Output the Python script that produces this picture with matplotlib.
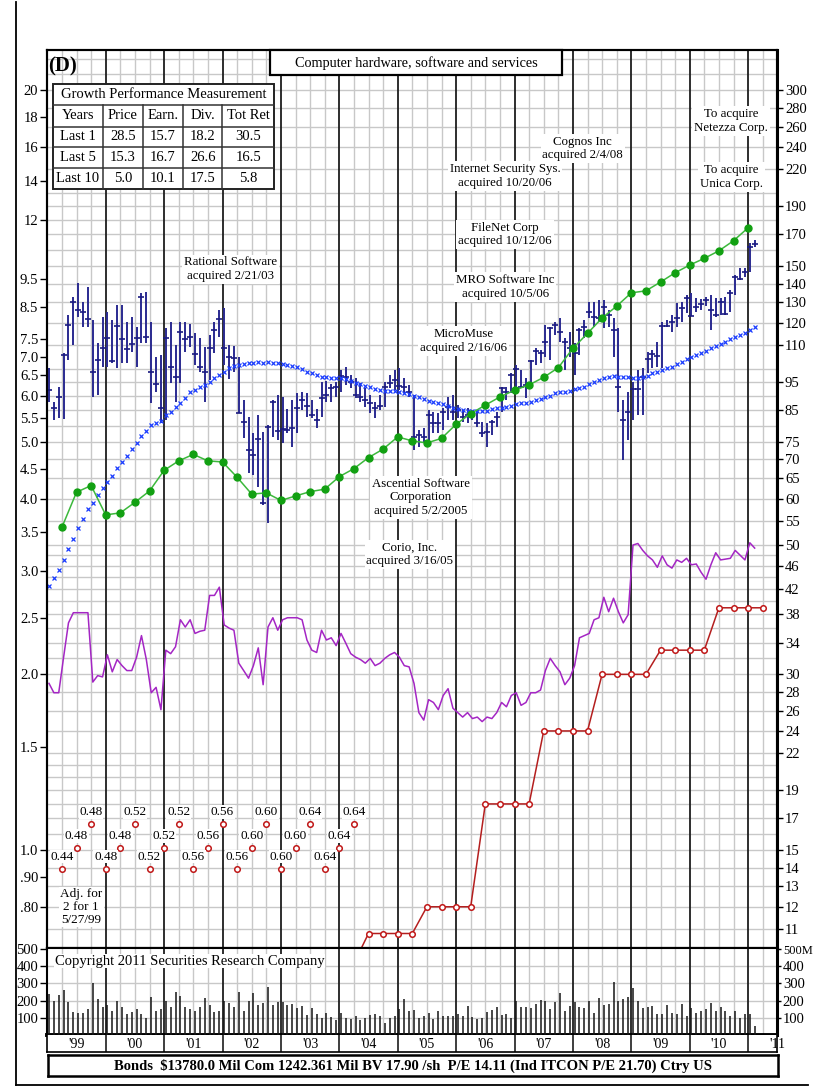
import numpy as np
import matplotlib.pyplot as plt
from matplotlib.patches import Rectangle
from matplotlib.lines import Line2D
from matplotlib.ticker import NullLocator

plt.rcParams['font.family'] = ['Liberation Serif', 'DejaVu Serif']

# ---------------- data (monthly from Jan 1999, price in $) ----------------
start_year = 1999

price_hi = [100.3, 87.7, 93.1, 106.4, 123.6, 132.7, 140.2, 130.1, 138.0, 121.2,
            110.7, 122.6, 125.1, 121.2, 128.6, 128.6, 120.3, 122.6, 117.9, 134.7,
            135.2, 120.3, 104.7, 105.6, 117.4, 120.3, 109.8, 120.3, 120.3, 119.3,
            115.2, 112.9, 109.0, 114.3, 120.3, 126.1, 127.1, 109.8, 109.4, 104.7,
            88.4, 82.6, 77.6, 83.3, 77.9, 80.1, 88.4, 90.2, 89.4, 85.4,
            88.4, 91.0, 91.3, 91.0, 88.4, 85.4, 94.9, 95.3, 94.2, 94.9,
            99.6, 100.7, 97.6, 96.4, 94.5, 92.7, 90.2, 87.8, 90.2, 94.9,
            97.6, 99.6, 100.4, 96.4, 93.8, 90.2, 78.6, 79.2, 85.0, 84.3,
            84.0, 85.7, 89.5, 90.2, 86.7, 85.0, 85.7, 84.3, 85.0, 81.2,
            80.8, 81.8, 84.3, 93.1, 93.1, 98.4, 101.5, 99.6, 96.4, 103.6,
            108.6, 107.7, 118.9, 117.9, 120.3, 122.2, 113.0, 115.7, 110.8, 117.5,
            121.2, 130.2, 130.2, 131.2, 131.2, 126.1, 122.2, 117.5, 88.5, 91.3,
            94.9, 99.6, 100.4, 106.8, 107.7, 111.2, 120.3, 121.2, 123.7, 129.6,
            130.2, 133.8, 134.8, 132.1, 131.6, 132.7, 133.8, 132.1, 132.1, 132.7,
            136.5, 144.8, 148.9, 148.9, 164.2, 166.2]

price_lo = [87.7, 81.7, 82.3, 82.0, 103.5, 109.8, 122.6, 117.9, 117.9, 89.4,
            90.2, 100.7, 100.7, 102.3, 100.3, 102.3, 102.3, 106.8, 100.7, 110.7,
            110.7, 87.4, 91.3, 80.7, 81.7, 94.5, 87.7, 94.5, 106.8, 108.9,
            101.5, 98.7, 87.7, 95.7, 106.4, 113.4, 101.5, 96.1, 98.7, 84.0,
            76.1, 66.3, 65.8, 62.8, 58.5, 54.4, 76.4, 75.5, 74.6, 77.6,
            73.5, 77.6, 85.0, 82.6, 82.3, 79.2, 82.6, 87.7, 87.7, 89.4,
            91.3, 93.8, 92.7, 89.2, 87.8, 86.0, 84.0, 82.4, 85.0, 86.0,
            92.7, 92.0, 92.0, 90.9, 89.5, 72.6, 73.5, 74.7, 75.6, 77.7,
            77.7, 78.6, 81.8, 81.8, 82.4, 81.2, 80.8, 81.8, 79.6, 76.5,
            73.5, 77.1, 79.6, 84.3, 88.5, 90.9, 93.1, 92.7, 89.2, 93.1,
            101.5, 102.3, 104.7, 103.6, 114.3, 111.2, 99.6, 104.7, 97.6, 105.6,
            113.0, 122.2, 118.0, 120.3, 117.5, 118.0, 104.7, 84.3, 69.8, 75.6,
            81.8, 83.4, 83.4, 98.4, 100.4, 100.7, 100.4, 118.0, 115.7, 118.0,
            120.3, 124.6, 123.2, 125.1, 126.1, 128.1, 116.6, 122.7, 123.7, 123.7,
            125.1, 133.8, 142.0, 143.7, 146.5, 161.7]

price_close = [92.0, 85.7, 89.4, 105.6, 118.8, 130.1, 126.1, 125.1, 121.7, 98.7,
               103.5, 108.6, 112.9, 103.1, 118.3, 112.5, 108.1, 110.3, 112.9, 132.7,
               113.4, 98.7, 94.2, 85.7, 112.9, 100.7, 96.8, 115.6, 112.5, 113.4,
               106.0, 100.7, 98.7, 108.6, 116.5, 121.7, 108.6, 104.7, 104.3, 84.0,
               81.0, 72.6, 71.2, 75.8, 58.9, 79.5, 87.7, 78.3, 78.9, 78.6,
               79.2, 85.7, 88.4, 86.3, 83.3, 81.7, 89.1, 90.2, 92.7, 93.1,
               97.2, 96.8, 94.9, 90.2, 89.5, 88.5, 87.4, 85.7, 86.3, 93.1,
               94.5, 95.7, 93.5, 93.1, 91.3, 76.5, 77.1, 76.5, 83.4, 80.8,
               80.8, 84.3, 85.9, 84.3, 85.0, 82.7, 83.4, 83.0, 80.8, 77.7,
               78.0, 81.2, 82.7, 92.7, 91.3, 97.6, 100.0, 93.1, 93.8, 103.2,
               107.3, 106.4, 111.2, 117.5, 118.9, 115.7, 111.2, 108.6, 106.4, 116.6,
               118.0, 125.1, 122.7, 122.2, 127.6, 123.7, 116.6, 93.1, 81.8, 84.3,
               92.4, 92.4, 96.8, 104.0, 106.0, 105.2, 118.5, 118.5, 120.3, 122.2,
               127.1, 132.1, 123.2, 127.6, 129.1, 131.2, 126.1, 123.7, 130.2, 124.1,
               134.8, 143.7, 142.6, 146.5, 161.7, 163.6]

moving_avg = [42.5, 43.8, 45.2, 47.1, 49.2, 51.1, 53.4, 55.3, 57.6, 58.9,
              60.8, 62.5, 64.0, 65.6, 67.7, 69.3, 70.9, 72.9, 74.7, 76.8,
              78.3, 80.2, 80.8, 81.5, 83.4, 84.3, 86.0, 87.4, 89.1, 91.3,
              92.0, 93.1, 93.8, 94.9, 96.4, 97.6, 98.7, 100.4, 101.1, 101.5,
              101.9, 102.3, 102.3, 102.7, 102.3, 102.7, 102.3, 102.3, 101.9, 101.5,
              101.1, 100.7, 99.9, 98.7, 98.4, 97.6, 96.8, 96.8, 96.4, 96.4,
              96.4, 96.0, 95.3, 94.5, 94.2, 93.5, 93.1, 92.3, 92.0, 91.6,
              91.6, 91.6, 91.3, 90.9, 90.5, 89.8, 89.5, 88.8, 88.1, 87.8,
              87.4, 87.1, 86.3, 85.7, 85.4, 85.0, 84.7, 84.7, 84.7, 84.7,
              84.7, 85.4, 85.7, 85.7, 86.0, 86.3, 87.1, 87.4, 87.4, 87.8,
              88.5, 88.8, 89.5, 89.8, 90.9, 91.3, 91.3, 91.6, 92.3, 92.7,
              93.1, 94.2, 94.9, 95.7, 96.4, 96.8, 97.2, 96.8, 96.8, 96.8,
              96.4, 96.4, 96.8, 97.2, 98.4, 98.7, 99.6, 100.4, 100.7, 101.9,
              102.7, 104.0, 104.8, 105.6, 106.4, 107.3, 108.6, 109.4, 110.3, 111.2,
              112.5, 113.4, 114.3, 115.2, 116.6, 118.0]

rel_strength = [1.93, 1.86, 1.86, 2.14, 2.45, 2.55, 2.55, 2.55, 2.55, 1.94,
                1.99, 1.98, 2.16, 2.02, 2.12, 2.07, 2.03, 2.03, 2.14, 2.33,
                2.12, 1.86, 1.90, 1.74, 2.20, 2.17, 2.23, 2.48, 2.41, 2.48,
                2.35, 2.37, 2.38, 2.73, 2.73, 2.82, 2.43, 2.40, 2.38, 2.09,
                2.03, 1.97, 2.07, 2.22, 1.92, 2.41, 2.50, 2.38, 2.48, 2.50,
                2.50, 2.50, 2.48, 2.29, 2.20, 2.18, 2.38, 2.29, 2.31, 2.24,
                2.35, 2.26, 2.17, 2.14, 2.12, 2.09, 2.13, 2.07, 2.09, 2.13,
                2.16, 2.18, 2.14, 2.07, 2.06, 1.93, 1.72, 1.67, 1.81, 1.79,
                1.74, 1.84, 1.89, 1.75, 1.72, 1.69, 1.72, 1.68, 1.69, 1.66,
                1.69, 1.68, 1.72, 1.79, 1.76, 1.84, 1.86, 1.77, 1.79, 1.86,
                1.86, 1.88, 2.03, 2.13, 2.07, 2.02, 1.92, 1.97, 2.07, 2.31,
                2.33, 2.35, 2.48, 2.50, 2.71, 2.56, 2.70, 2.56, 2.45, 2.53,
                3.33, 3.35, 3.26, 3.19, 3.14, 3.05, 3.19, 3.08, 3.04, 3.14,
                3.11, 3.16, 3.08, 3.09, 2.99, 2.91, 3.08, 3.23, 3.14, 3.15,
                3.16, 3.26, 3.20, 3.14, 3.36, 3.29]

volume = [240, 200, 230, 260, 190, 135, 130, 130, 150, 305, 210, 160,
          175, 140, 195, 165, 120, 135, 150, 125, 100, 220, 140, 150,
          195, 160, 250, 225, 160, 150, 140, 160, 215, 175, 135, 140,
          195, 185, 160, 250, 140, 195, 245, 175, 185, 280, 175, 190,
          190, 175, 180, 155, 170, 115, 155, 120, 100, 130, 105, 90,
          130, 100, 95, 110, 90, 100, 115, 120, 110, 70, 100, 110,
          150, 210, 140, 145, 100, 110, 130, 95, 140, 110, 110, 110,
          120, 110, 170, 105, 95, 100, 135, 145, 160, 115, 120, 100,
          200, 160, 165, 155, 180, 205, 200, 150, 190, 245, 140, 170,
          190, 160, 155, 195, 130, 215, 175, 180, 310, 200, 210, 220,
          275, 195, 155, 160, 170, 120, 125, 175, 130, 120, 180, 110,
          155, 130, 140, 150, 185, 140, 165, 140, 110, 140, 100, 120,
          125, 55]

# quarterly, from 1999 Q1 end
earnings = [3.57, 4.10, 4.21, 3.75, 3.78, 3.94, 4.12, 4.47, 4.64, 4.76,
            4.64, 4.62, 4.35, 4.07, 4.09, 3.97, 4.04, 4.11, 4.15, 4.36,
            4.50, 4.70, 4.86, 5.10, 5.02, 4.98, 5.07, 5.36, 5.59, 5.78,
            5.97, 6.13, 6.26, 6.45, 6.70, 7.23, 7.67, 8.15, 8.54, 9.00,
            9.07, 9.39, 9.74, 10.04, 10.31, 10.62, 11.05, 11.63]
earnings_start = 1999.25

# annual dividend rate, quarterly from 2004 Q1 end
dividends = [0.64, 0.72, 0.72, 0.72, 0.72, 0.80, 0.80, 0.80, 0.80,
             1.20, 1.20, 1.20, 1.20, 1.60, 1.60, 1.60, 1.60,
             2.00, 2.00, 2.00, 2.00, 2.20, 2.20, 2.20, 2.20,
             2.60, 2.60, 2.60, 2.60]
dividends_start = 2004.25

# off-scale dividends shown as labelled circles
old_dividends = [0.44, 0.48, 0.48, 0.48, 0.48, 0.52, 0.52, 0.52, 0.52, 0.56, 0.56,
                 0.56, 0.56, 0.60, 0.60, 0.60, 0.60, 0.64, 0.64, 0.64, 0.64]
old_div_start = 1999.25
old_div_levels = [0.93, 1.01, 1.11]

pe_ratio = 15

left_ticks = [20, 18, 16, 14, 12, 9.5, 8.5, 7.5, 7.0, 6.5, 6.0, 5.5, 5.0, 4.5,
              4.0, 3.5, 3.0, 2.5, 2.0, 1.5, 1.0, 0.9, 0.8]
left_labels = ['20', '18', '16', '14', '12', '9.5', '8.5', '7.5', '7.0', '6.5',
               '6.0', '5.5', '5.0', '4.5', '4.0', '3.5', '3.0', '2.5', '2.0',
               '1.5', '1.0', '.90', '.80']
right_ticks = [300, 280, 260, 240, 220, 190, 170, 150, 140, 130, 120, 110, 95,
               85, 75, 70, 65, 60, 55, 50, 46, 42, 38, 34, 30, 28, 26, 24, 22,
               19, 17, 15, 14, 13, 12, 11]
vol_ticks = [100, 200, 300, 400, 500]
year_labels = ["'99", "'00", "'01", "'02", "'03", "'04", "'05", "'06", "'07",
               "'08", "'09", "'10", "'11"]

growth_title = 'Growth Performance Measurement'
growth_header = ['Years', 'Price', 'Earn.', 'Div.', 'Tot Ret']
growth_rows = [['Last 1', '28.5', '15.7', '18.2', '30.5'],
               ['Last 5', '15.3', '16.7', '26.6', '16.5'],
               ['Last 10', '5.0', '10.1', '17.5', '5.8']]

notes = [("Rational Software\nacquired 2/21/03", 2002.13, 9.88),
         ("Cognos Inc\nacquired 2/4/08", 2008.17, 15.9),
         ("Internet Security Sys.\nacquired 10/20/06", 2006.84, 14.26),
         ("FileNet Corp\nacquired 10/12/06", 2006.84, 11.34),
         ("MRO Software Inc\nacquired 10/5/06", 2006.84, 9.21),
         ("MicroMuse\nacquired 2/16/06", 2006.13, 7.44),
         ("Ascential Software\nCorporation\nacquired 5/2/2005", 2005.40, 4.02),
         ("Corio, Inc.\nacquired 3/16/05", 2005.21, 3.21),
         ("To acquire\nNetezza Corp.", 2010.71, 17.72),
         ("To acquire\nUnica Corp.", 2010.71, 14.21)]

title = 'Computer hardware, software and services'
bottom_line = ('Bonds  $13780.0 Mil Com 1242.361 Mil BV 17.90 /sh  P/E 14.11 '
               '(Ind ITCON P/E 21.70) Ctry US')
copyright_txt = 'Copyright 2011 Securities Research Company'

# ---------------- layout ----------------
W, H = 815, 1091
fig = plt.figure(figsize=(W / 100, H / 100), dpi=100)


def fx(x):
    return x / W


def fy(y):
    return 1 - y / H


GRID = '#c8c8c8'
YEARC = '#1e1e1e'
X0, X1 = 47.3, 777.3
XMIN, XMAX = 1999.0, 2011.5
YMIN, YMAX = 0.68, 23.44

t = start_year + (np.arange(len(price_hi)) + 0.35) / 12
tq = earnings_start + 0.25 * np.arange(len(earnings))
td = dividends_start + 0.25 * np.arange(len(dividends))
to = old_div_start + 0.25 * np.arange(len(old_dividends))

ax = fig.add_axes([fx(X0), fy(948), (X1 - X0) / W, (948 - 50) / H])
ax.set_yscale('log')
ax.set_xlim(XMIN, XMAX)
ax.set_ylim(YMIN, YMAX)

quarters = np.arange(1999, 2011.51, 0.25)
for q in quarters:
    if q % 1 == 0:
        ax.axvline(q, color=YEARC, lw=1.3, zorder=1)
    else:
        ax.axvline(q, color=GRID, lw=1.0, zorder=0.5)

grid_right = (list(range(11, 23)) + list(range(24, 51, 2)) + list(range(55, 101, 5))
              + list(range(110, 201, 10)) + list(range(220, 341, 20)))
for g in grid_right:
    ax.axhline(g / pe_ratio, color=GRID, lw=1.0, zorder=0.5)

# series
hi = np.array(price_hi) / pe_ratio
lo = np.array(price_lo) / pe_ratio
cl = np.array(price_close) / pe_ratio
ax.plot(t, rel_strength, color='#a426c4', lw=1.1, zorder=2)
ax.plot(td, dividends, '-o', color='#b41e1e', lw=1.1, ms=4, mfc='white',
        mec='#c01818', mew=1.1, zorder=2)
ax.vlines(t, lo, hi, color='#2a2a90', lw=1.4, zorder=3)
ax.plot(t, cl, ls='none', marker='_', ms=4.5, mew=1.2, color='#1a1a80', zorder=3)
ax.plot(t, np.array(moving_avg) / pe_ratio, ls='none', marker='x', ms=3.2,
        mew=0.9, color='#1a3cff', zorder=3)
ax.plot(tq, earnings, '-', color='#3cb83c', lw=1.1, zorder=4)
ax.plot(tq, earnings, 'o', ms=5, color='#12a012', zorder=4)

levels = [old_div_levels[i % 3] for i in range(len(old_dividends))]
ax.plot(to, levels, 'o', ls='none', ms=4, mfc='white', mec='#c01818', mew=1.1,
        zorder=4)
for x, lv, v in zip(to, levels, old_dividends):
    ax.annotate(f'{v:.2f}', (x, lv), xytext=(0, 8.5), textcoords='offset points',
                ha='center', va='center', fontsize=9.5, zorder=5,
                bbox=dict(boxstyle='square,pad=0.05', fc='white', ec='none'))

ax.text(2000 - 0.42, 0.80, 'Adj. for\n2 for 1\n5/27/99', ha='center', va='center',
        fontsize=9.5, linespacing=1.1, zorder=5,
        bbox=dict(boxstyle='square,pad=0.1', fc='white', ec='none'))

for s, x, y in notes:
    ax.text(x, y, s, ha='center', va='center', fontsize=9.3, linespacing=1.15,
            zorder=6, bbox=dict(boxstyle='square,pad=0.15', fc='white', ec='none'))

ax.set_xticks([])
ax.set_yticks(left_ticks)
ax.set_yticklabels(left_labels)
ax.yaxis.set_minor_locator(NullLocator())
ax.tick_params(axis='y', direction='out', length=5, width=1, pad=1.5,
               labelsize=10.5)
for sp in ax.spines.values():
    sp.set_linewidth(1.5)

ax2 = ax.twinx()
ax2.set_yscale('log')
ax2.set_ylim(YMIN * pe_ratio, YMAX * pe_ratio)
ax2.set_yticks(right_ticks)
ax2.set_yticklabels([str(v) for v in right_ticks])
ax2.yaxis.set_minor_locator(NullLocator())
ax2.tick_params(axis='y', direction='out', length=4, width=1, pad=1.5,
                labelsize=10.5)
for sp in ax2.spines.values():
    sp.set_linewidth(1.5)
ax2.spines['right'].set_linewidth(2.2)

# volume panel
axv = fig.add_axes([fx(X0), fy(1035), (X1 - X0) / W, (1035 - 948) / H])
axv.set_xlim(XMIN, XMAX)
axv.set_ylim(0, 506)
for q in quarters:
    if q % 1 == 0:
        axv.axvline(q, color=YEARC, lw=1.3, zorder=1)
    else:
        axv.axvline(q, color=GRID, lw=1.0, zorder=0.5)
for g in vol_ticks[:-1]:
    axv.axhline(g, color=GRID, lw=1.0, zorder=0.5)
axv.vlines(t, 0, volume, color='#151515', lw=1.1, zorder=3)
axv.text((55 - X0) / (X1 - X0), 0.85, copyright_txt, transform=axv.transAxes,
         ha='left', va='center', fontsize=10.5, zorder=5,
         bbox=dict(boxstyle='square,pad=0.05', fc='white', ec='none'))
axv.set_xticks([])
axv.set_yticks(vol_ticks)
axv.set_yticklabels([str(v) for v in vol_ticks])
axv.tick_params(axis='y', direction='out', length=5, width=1, pad=1.5,
                labelsize=10.5)
for sp in axv.spines.values():
    sp.set_linewidth(1.5)
axv.spines['bottom'].set_linewidth(2.8)
axv.spines['right'].set_linewidth(2.2)
axv2 = axv.twinx()
axv2.set_ylim(0, 506)
axv2.set_yticks(vol_ticks)
axv2.set_yticklabels([str(v) for v in vol_ticks[:-1]] + ['500M'])
axv2.tick_params(axis='y', direction='out', length=3, width=1, pad=1,
                 labelsize=10.5)
axv2.get_yticklabels()[-1].set_fontsize(9)
for sp in axv2.spines.values():
    sp.set_visible(False)

# year strip
axy = fig.add_axes([fx(X0), fy(1052), (X1 - X0) / W, (1052 - 1035) / H])
axy.set_xlim(XMIN, XMAX)
axy.set_ylim(0, 1)
axy.set_xticks([])
axy.set_yticks([])
for yr in range(2000, 2012):
    axy.axvline(yr, color=YEARC, lw=1.2)
for i, lab in enumerate(year_labels):
    xpos = start_year + i + 0.5
    axy.text(xpos, 0.45, lab, ha='center', va='center', fontsize=10,
             clip_on=False)
for sp in axy.spines.values():
    sp.set_linewidth(1.2)
axy.spines['top'].set_visible(False)

# bottom info box
axb = fig.add_axes([fx(48), fy(1076), 730 / W, 21 / H])
axb.set_xticks([])
axb.set_yticks([])
for sp in axb.spines.values():
    sp.set_linewidth(1.8)
axb.text(0.5, 0.5, bottom_line, ha='center', va='center', fontsize=10.5,
         fontweight='bold', transform=axb.transAxes)

# title box
fig.add_artist(Rectangle((fx(270), fy(75)), (562 - 270) / W, 25 / H,
                         transform=fig.transFigure, fc='white', ec='black',
                         lw=1.6, zorder=5))
fig.text(fx(416), fy(63), title, ha='center', va='center', fontsize=10.3,
         zorder=6)
fig.text(fx(62), fy(66), '(D)', ha='center', va='center', fontsize=15,
         fontweight='bold', zorder=6)

# growth table
col_x = [52.7, 103.3, 142.7, 183.3, 222.3, 274.3]
row_y = [84, 105, 126.7, 147.3, 168.3, 189.3]
fig.add_artist(Rectangle((fx(col_x[0]), fy(row_y[-1])),
                         (col_x[-1] - col_x[0]) / W, (row_y[-1] - row_y[0]) / H,
                         transform=fig.transFigure, fc='white', ec='#222222',
                         lw=1.4, zorder=5))
for yv in row_y[1:-1]:
    fig.add_artist(Line2D([fx(col_x[0]), fx(col_x[-1])], [fy(yv), fy(yv)],
                          transform=fig.transFigure, color='#333333', lw=1.1,
                          zorder=6))
for xv in col_x[1:-1]:
    fig.add_artist(Line2D([fx(xv), fx(xv)], [fy(row_y[1]), fy(row_y[-1])],
                          transform=fig.transFigure, color='#333333', lw=1.1,
                          zorder=6))
fig.text(fx((col_x[0] + col_x[-1]) / 2), fy((row_y[0] + row_y[1]) / 2),
         growth_title, ha='center', va='center', fontsize=10.5, zorder=7)
for r, cells in enumerate([growth_header] + growth_rows):
    yc = (row_y[r + 1] + row_y[r + 2]) / 2
    for c, txt in enumerate(cells):
        xc = (col_x[c] + col_x[c + 1]) / 2
        fig.text(fx(xc), fy(yc), txt, ha='center', va='center', fontsize=10.5,
                 zorder=7)

# outer frame
fig.add_artist(Line2D([fx(16), fx(16)], [fy(2), fy(1085)], color='black', lw=1.3))
fig.add_artist(Line2D([fx(16), fx(808)], [fy(1085), fy(1085)], color='black',
                      lw=1.3))

fig.savefig('out.png', dpi=100, facecolor='white')
